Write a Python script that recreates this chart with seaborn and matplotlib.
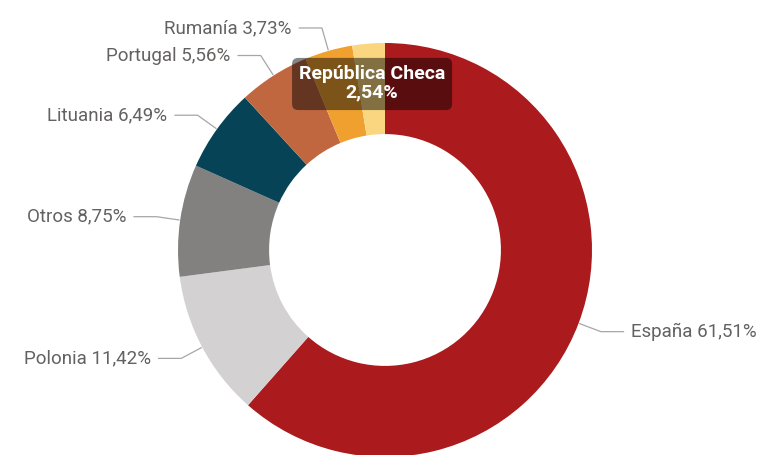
import numpy as np
import matplotlib.pyplot as plt
import seaborn as sns
from matplotlib.patches import FancyBboxPatch

# Data
paises = ["España", "Polonia", "Otros", "Lituania", "Portugal", "Rumanía", "República Checa"]
porcentajes = [61.51, 11.42, 8.75, 6.49, 5.56, 3.73, 2.54]
colores = ["#AB1A1D", "#D3D1D2", "#82817F", "#074356", "#C1673F", "#EFA02E", "#FAD680"]

sns.set_theme(style="white")
plt.rcParams['font.family'] = ['Roboto', 'DejaVu Sans']

texto_color = "#646261"
linea_color = "#A6A6A6"

fig = plt.figure(figsize=(7.69, 4.55), dpi=100)
ax = fig.add_axes([0, 0, 1, 1])

# Pie radius 1 = 207 px, centre at (385, 250) px from top-left
R, cx, cy = 207, 385, 250
wedges, _ = ax.pie(
    porcentajes,
    colors=sns.color_palette(colores),
    startangle=90,
    counterclock=False,
    radius=1,
    wedgeprops=dict(width=0.44, linewidth=0),
)
ax.set_xlim(-cx / R, (769 - cx) / R)
ax.set_ylim(-(455 - cy) / R, cy / R)
ax.set_aspect('auto')
ax.axis('off')

# Outside labels with leader lines (the last slice is shown as a tooltip)
for w, pais, p in zip(wedges[:-1], paises[:-1], porcentajes[:-1]):
    ang = np.deg2rad((w.theta1 + w.theta2) / 2)
    x0, y0 = np.cos(ang), np.sin(ang)
    xe, ye = 1.115 * x0, 1.115 * y0
    lado = 1 if x0 > 0 else -1
    x2 = xe + lado * 0.11
    ax.plot([1.005 * x0, xe, x2], [1.005 * y0, ye, ye], color=linea_color, lw=0.9)
    ax.text(x2 + lado * 0.035, ye, f"{pais} {p:.2f}".replace(".", ",") + "%",
            ha='left' if lado > 0 else 'right', va='center',
            fontsize=13.5, color=texto_color)

# Tooltip over República Checa
r = 0.03
caja = FancyBboxPatch((-0.449 + r, 0.676 + r), 0.773 - 2 * r, 0.252 - 2 * r,
                      boxstyle=f"round,pad={r}", fc="black", ec="none", alpha=0.48)
ax.add_patch(caja)
ax.text(-0.063, 0.806, f"{paises[-1]}\n{porcentajes[-1]:.2f}".replace(".", ",") + "%",
        ha='center', va='center', color='white', fontweight='bold',
        fontsize=14, linespacing=1.05)

fig.savefig("out.png", dpi=100)
